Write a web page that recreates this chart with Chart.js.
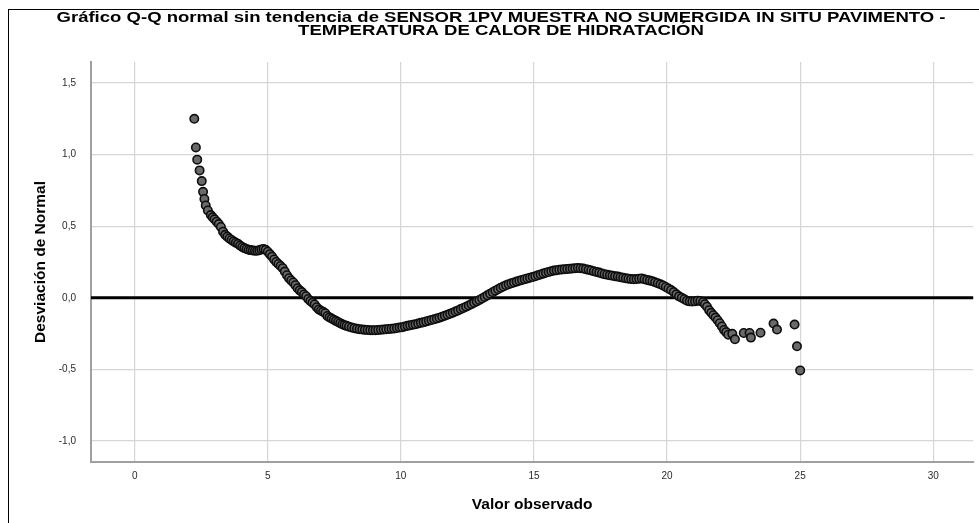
<!DOCTYPE html>
<html>
<head>
<meta charset="utf-8">
<script src="https://cdn.jsdelivr.net/npm/chart.js@4.4.1/dist/chart.umd.min.js"></script>
<style>
  html, body { margin: 0; padding: 0; background: #fff; }
  #wrap { width: 979px; height: 523px; }
</style>
</head>
<body>
<div id="wrap"><canvas id="qq" width="979" height="523"></canvas></div>
<script>
const obsX = [
  2.24, 2.30, 2.35, 2.44, 2.52, 2.57, 2.62, 2.67, 2.75, 2.86, 2.93,
  3.00, 3.08, 3.16, 3.24, 3.32, 3.40, 3.48, 3.56, 3.64, 3.72, 3.80, 3.88, 3.96,
  4.04, 4.12, 4.20, 4.28, 4.36, 4.44, 4.52, 4.60, 4.68, 4.76, 4.84, 4.92,
  5.00, 5.08, 5.16, 5.24, 5.32, 5.40, 5.48, 5.56, 5.64, 5.72, 5.80, 5.88, 5.96,
  6.04, 6.12, 6.20, 6.28, 6.36, 6.44, 6.52, 6.60, 6.68, 6.76, 6.84, 6.92,
  7.00, 7.08, 7.16, 7.24, 7.32, 7.40, 7.48, 7.56, 7.64, 7.72, 7.80, 7.88, 7.96,
  8.05, 8.15, 8.25, 8.35, 8.45, 8.55, 8.65, 8.75, 8.85, 8.95,
  9.05, 9.15, 9.25, 9.35, 9.45, 9.55, 9.65, 9.75, 9.85, 9.95,
  10.05, 10.15, 10.25, 10.35, 10.45, 10.55, 10.65, 10.75, 10.85, 10.95,
  11.05, 11.15, 11.25, 11.35, 11.45, 11.55, 11.65, 11.75, 11.85, 11.95,
  12.05, 12.15, 12.25, 12.35, 12.45, 12.55, 12.65, 12.75, 12.85, 12.95,
  13.05, 13.15, 13.25, 13.35, 13.45, 13.55, 13.65, 13.75, 13.85, 13.95,
  14.05, 14.15, 14.25, 14.35, 14.45, 14.55, 14.65, 14.75, 14.85, 14.95,
  15.05, 15.15, 15.25, 15.35, 15.45, 15.55, 15.65, 15.75, 15.85, 15.95,
  16.05, 16.15, 16.25, 16.35, 16.45, 16.55, 16.65, 16.75, 16.85, 16.95,
  17.05, 17.15, 17.25, 17.35, 17.45, 17.55, 17.65, 17.75, 17.85, 17.95,
  18.05, 18.15, 18.25, 18.35, 18.45, 18.55, 18.65, 18.75, 18.85, 18.95,
  19.05, 19.15, 19.25, 19.35, 19.45, 19.55, 19.65, 19.75, 19.85, 19.95,
  20.05, 20.15, 20.25, 20.35, 20.45, 20.55, 20.65, 20.75, 20.85, 20.95,
  21.05, 21.15, 21.25, 21.35, 21.42, 21.50, 21.58, 21.66, 21.74, 21.82, 21.90, 21.98,
  22.06, 22.14, 22.22, 22.30, 22.45, 22.55, 22.88, 23.10, 23.15, 23.51,
  24.00, 24.13, 24.79, 24.88, 25.00
];
const devY = [
  1.250, 1.050, 0.965, 0.890, 0.815, 0.740, 0.690, 0.645, 0.610, 0.578, 0.562,
  0.548, 0.532, 0.515, 0.495, 0.462, 0.440, 0.427, 0.414, 0.404, 0.394, 0.385, 0.377, 0.365,
  0.355, 0.347, 0.341, 0.336, 0.333, 0.331, 0.329, 0.328, 0.332, 0.338, 0.341, 0.335,
  0.322, 0.305, 0.288, 0.268, 0.250, 0.236, 0.222, 0.207, 0.183, 0.158, 0.137, 0.121, 0.107,
  0.088, 0.067, 0.052, 0.040, 0.023, 0.011, -0.008, -0.022, -0.034, -0.047, -0.066, -0.081,
  -0.090, -0.098, -0.108, -0.127, -0.137, -0.145, -0.153, -0.161, -0.169, -0.177, -0.185, -0.191, -0.196,
  -0.202, -0.207, -0.212, -0.216, -0.219, -0.222, -0.224, -0.225, -0.226, -0.226,
  -0.226, -0.225, -0.223, -0.221, -0.220, -0.218, -0.216, -0.214, -0.211, -0.208,
  -0.205, -0.200, -0.196, -0.192, -0.188, -0.184, -0.180, -0.175, -0.170, -0.165,
  -0.160, -0.155, -0.150, -0.145, -0.139, -0.132, -0.125, -0.119, -0.112, -0.104,
  -0.096, -0.088, -0.079, -0.071, -0.062, -0.053, -0.044, -0.035, -0.025, -0.015,
  -0.005, 0.006, 0.017, 0.028, 0.039, 0.050, 0.060, 0.070, 0.079, 0.088,
  0.095, 0.101, 0.107, 0.113, 0.119, 0.125, 0.130, 0.135, 0.140, 0.145,
  0.151, 0.157, 0.163, 0.169, 0.175, 0.180, 0.185, 0.190, 0.193, 0.196,
  0.198, 0.200, 0.201, 0.203, 0.204, 0.206, 0.208, 0.207, 0.204, 0.200,
  0.195, 0.191, 0.186, 0.181, 0.176, 0.170, 0.165, 0.161, 0.157, 0.154,
  0.151, 0.148, 0.144, 0.140, 0.136, 0.133, 0.131, 0.130, 0.131, 0.133,
  0.135, 0.130, 0.125, 0.120, 0.115, 0.108, 0.102, 0.094, 0.086, 0.076,
  0.065, 0.054, 0.040, 0.024, 0.010, 0.000, -0.010, -0.020, -0.025, -0.026,
  -0.024, -0.020, -0.022, -0.030, -0.045, -0.062, -0.087, -0.105, -0.122, -0.138, -0.157, -0.178,
  -0.200, -0.225, -0.240, -0.258, -0.252, -0.290, -0.246, -0.246, -0.278, -0.244,
  -0.180, -0.222, -0.187, -0.339, -0.507
];
const xTicks = [0, 5, 10, 15, 20, 25, 30];
const yTicks = [-1.0, -0.5, 0.0, 0.5, 1.0, 1.5];
const chartTitle = [
  'Gráfico Q-Q normal sin tendencia de SENSOR 1PV MUESTRA NO SUMERGIDA IN SITU PAVIMENTO -',
  'TEMPERATURA DE CALOR DE HIDRATACIÓN'
];

const points = obsX.map((x, i) => ({ x: x, y: devY[i] }));
const fontFamily = '"Liberation Sans", Arial, sans-serif';

// white background and the thin outer frame (only left/top edges show)
const framePlugin = {
  id: 'frame',
  beforeDraw(chart) {
    const ctx = chart.ctx;
    ctx.save();
    ctx.fillStyle = '#fff';
    ctx.fillRect(0, 0, chart.width, chart.height);
    ctx.strokeStyle = '#000';
    ctx.lineWidth = 1;
    ctx.strokeRect(8.5, 9.5, chart.width + 20, chart.height + 20);
    ctx.restore();
  }
};

// title is wide and squat in the original, so stretch it sideways
const titlePlugin = {
  id: 'qqTitle',
  afterDraw(chart) {
    const ctx = chart.ctx;
    ctx.save();
    ctx.font = 'bold 14px ' + fontFamily;
    ctx.fillStyle = '#000';
    ctx.textAlign = 'center';
    ctx.textBaseline = 'middle';
    const sx = 889 / ctx.measureText(chartTitle[0]).width;
    ctx.translate(501, 0);
    ctx.scale(sx, 1);
    ctx.fillText(chartTitle[0], 0, 18.5);
    ctx.fillText(chartTitle[1], 0, 31.5);
    ctx.restore();
  }
};

// thick reference line at deviation 0
const zeroLine = {
  id: 'zeroLine',
  beforeDatasetsDraw(chart) {
    const { ctx, chartArea, scales } = chart;
    const y = scales.y.getPixelForValue(0);
    ctx.save();
    ctx.strokeStyle = '#000';
    ctx.lineWidth = 3;
    ctx.beginPath();
    ctx.moveTo(chartArea.left, y);
    ctx.lineTo(chartArea.right, y);
    ctx.stroke();
    ctx.restore();
  }
};

new Chart(document.getElementById('qq'), {
  type: 'scatter',
  data: {
    datasets: [{
      data: points,
      backgroundColor: '#6a6a6a',
      borderColor: '#0d0d0d',
      borderWidth: 1.6,
      pointRadius: 4.2
    }]
  },
  options: {
    responsive: false,
    animation: false,
    devicePixelRatio: 1,
    layout: { padding: { left: 21, right: 0, top: 62, bottom: 0 } },
    plugins: {
      legend: { display: false },
      tooltip: { enabled: false },
      title: { display: false }
    },
    scales: {
      x: {
        type: 'linear',
        min: -1.64,
        max: 31.5,
        afterBuildTicks: s => { s.ticks = xTicks.map(v => ({ value: v })); },
        afterFit: s => { s.height = 61; },
        grid: { color: '#d6d6d6', lineWidth: 1.2, drawTicks: false },
        border: { color: '#a0a0a0', width: 2 },
        ticks: {
          color: '#2b2b2b',
          font: { family: fontFamily, size: 10 },
          padding: 8,
          callback: v => String(v)
        },
        title: {
          display: true,
          text: 'Valor observado',
          color: '#000',
          font: { family: fontFamily, size: 15.5, weight: 'bold' },
          padding: { top: 0, bottom: 9 }
        }
      },
      y: {
        type: 'linear',
        min: -1.147,
        max: 1.647,
        afterBuildTicks: s => { s.ticks = yTicks.map(v => ({ value: v })); },
        afterFit: s => { s.width = 70; },
        grid: { color: '#d6d6d6', lineWidth: 1.2, drawTicks: false },
        border: { color: '#a0a0a0', width: 2 },
        ticks: {
          color: '#2b2b2b',
          font: { family: fontFamily, size: 10 },
          padding: 15,
          callback: v => v.toFixed(1).replace('.', ',')
        },
        title: {
          display: true,
          text: 'Desviación de Normal',
          color: '#000',
          font: { family: fontFamily, size: 15.5, weight: 'bold' },
          padding: { top: 10, bottom: 0 }
        }
      }
    }
  },
  plugins: [framePlugin, zeroLine, titlePlugin]
});
</script>
</body>
</html>
